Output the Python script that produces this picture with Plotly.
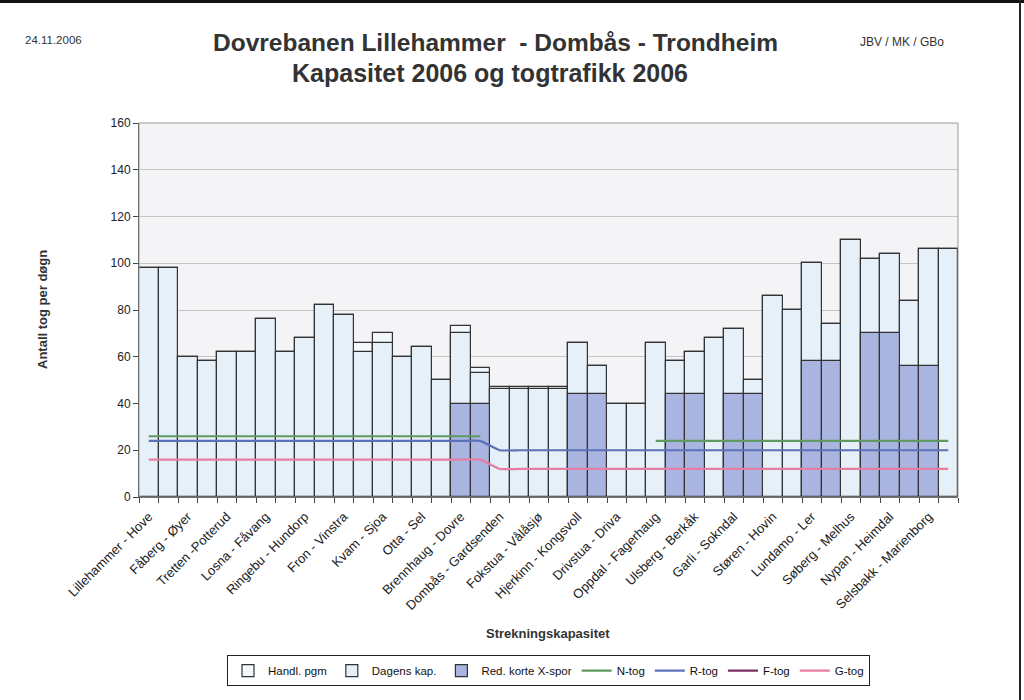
import plotly.graph_objects as go

labels = ["Lillehammer - Hove", "Fåberg - Øyer", "Tretten -Potterud", "Losna - Fåvang",
          "Ringebu - Hundorp", "Fron - Vinstra", "Kvam - Sjoa", "Otta - Sel",
          "Brennhaug - Dovre", "Dombås - Gardsenden", "Fokstua - Vålåsjø",
          "Hjerkinn - Kongsvoll", "Drivstua - Driva", "Oppdal - Fagerhaug",
          "Ulsberg - Berkåk", "Garli - Sokndal", "Støren - Hovin", "Lundamo - Ler",
          "Søberg - Melhus", "Nypan - Heimdal", "Selsbakk - Marienborg"]
sections = list(range(1, 43))
label_pos = sections[::2]

handl = [98, 98, 60, 58, 62, 62, 76, 62, 68, 82, 78, 66, 70, 60, 64, 50, 73, 55, 47, 47, 47,
         47, 66, 56, 40, 40, 66, 58, 62, 68, 72, 50, 86, 80, 100, 74, 110, 102, 104, 84, 106, 106]
dagens = [98, 98, 60, 58, 62, 62, 76, 62, 68, 82, 78, 62, 66, 60, 64, 50, 70, 53, 46, 46, 46,
          46, 66, 56, 40, 40, 66, 58, 62, 68, 72, 50, 86, 80, 100, 74, 110, 102, 104, 84, 106, 106]
red = ([None] * 16 + [40, 40] + [None] * 4 + [44, 44] + [None] * 3 + [44, 44, None, 44, 44,
       None, None, 58, 58, None, 70, 70, 56, 56, None])
n_tog = [26] * 18 + [None] * 8 + [24] * 16
r_tog = [24] * 18 + [20] * 24
f_tog = [None] * 42
g_tog = [16] * 18 + [12] * 24

FONT = "Arial, Liberation Sans, sans-serif"
fig = go.Figure()
fig.add_trace(go.Bar(x=sections, y=handl, name="Handl. pgm", marker=dict(color="#F3F8FC", line=dict(color="#333333", width=1.2))))
fig.add_trace(go.Bar(x=sections, y=dagens, name="Dagens kap.", marker=dict(color="#E6F0F8", line=dict(color="#333333", width=1.2))))
fig.add_trace(go.Bar(x=sections, y=red, name="Red. korte X-spor", marker=dict(color="#A9B5E0", line=dict(color="#333333", width=1.2))))
for nm, vals, col in [("N-tog", n_tog, "#5E9A62"), ("R-tog", r_tog, "#5B72B8"),
                      ("F-tog", f_tog, "#7A2E5E"), ("G-tog", g_tog, "#E57DA5")]:
    fig.add_trace(go.Scatter(x=sections, y=vals, name=nm, mode="lines",
                             line=dict(color=col, width=2.2, shape="spline", smoothing=0.4),
                             connectgaps=False))

fig.update_layout(
    width=1024, height=700,
    margin=dict(l=139, r=66, t=123, b=203, autoexpand=False),
    barmode="overlay", bargap=0,
    paper_bgcolor="white", plot_bgcolor="#F4F4F6",
    font=dict(family=FONT, size=12, color="#222222"),
    showlegend=True,
    legend=dict(orientation="h", x=0.5, xanchor="center", y=-0.423, yanchor="top",
                bordercolor="#222222", borderwidth=1, bgcolor="white",
                font=dict(size=11.5, color="#111111"), traceorder="normal",
                itemwidth=30, tracegroupgap=0),
    xaxis=dict(range=[0.5, 42.5], tickmode="array", tickvals=label_pos, ticktext=labels,
               tickangle=-45, ticks="", showgrid=False, zeroline=False, automargin=False,
               showline=True, linecolor="#444444", linewidth=1, ticklabelstandoff=6,
               tickfont=dict(size=13, color="#222222"),
               minor=dict(tick0=0.5, dtick=1, ticks="outside", ticklen=5,
                          tickcolor="#444444", showgrid=False)),
    yaxis=dict(range=[0, 160], dtick=20, ticks="outside", ticklen=5, tickcolor="#444444",
               showgrid=True, gridcolor="#C4C4C4", gridwidth=1, zeroline=False, automargin=False,
               showline=True, linecolor="#444444", linewidth=1,
               tickfont=dict(size=12, color="#222222")),
)

fig.add_shape(type="rect", xref="paper", yref="paper", x0=0, x1=1, y0=0, y1=1,
              line=dict(color="#9A9A9A", width=1), layer="above")
# page frame from the scan
fig.add_shape(type="line", xref="paper", yref="paper", x0=-0.2, x1=1.1, y0=1.326, y1=1.326,
              line=dict(color="#111111", width=4))
fig.add_shape(type="line", xref="paper", yref="paper", x0=(1020 - 139) / 819, x1=(1020 - 139) / 819,
              y0=1.33, y1=-0.55, line=dict(color="#222222", width=2))

anns = [
    dict(text="<b>Dovrebanen Lillehammer  - Dombås - Trondheim</b>", x=495, y=42, size=24.5),
    dict(text="<b>Kapasitet 2006 og togtrafikk 2006</b>", x=490, y=73, size=25),
    dict(text="24.11.2006", x=53, y=40, size=11.5),
    dict(text="JBV / MK / GBo", x=902, y=42, size=12),
    dict(text="<b>Strekningskapasitet</b>", x=548, y=633, size=13),
]
for a in anns:
    fig.add_annotation(text=a["text"], xref="paper", yref="paper",
                       x=(a["x"] - 139) / 819, y=(497 - a["y"]) / 374,
                       xanchor="center", yanchor="middle", showarrow=False,
                       font=dict(family=FONT, size=a["size"], color="#333333"))
fig.add_annotation(text="<b>Antall tog per døgn</b>", xref="paper", yref="paper",
                   x=(42 - 139) / 819, y=(497 - 310) / 374, textangle=-90,
                   xanchor="center", yanchor="middle", showarrow=False,
                   font=dict(family=FONT, size=13, color="#333333"))

fig.write_html("out.html", config={"displayModeBar": False},
               post_script="document.body.style.margin='0';document.body.style.overflow='hidden';")
